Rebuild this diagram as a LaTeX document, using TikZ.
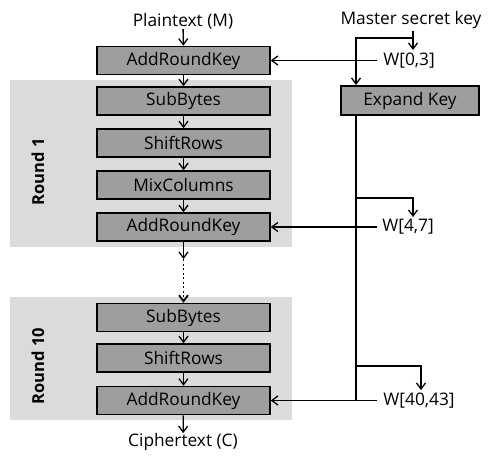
\documentclass[tikz,border=0pt]{standalone}
\usepackage{fontspec}
\setmainfont{Open Sans}
\usetikzlibrary{arrows.meta}
\begin{document}
\begin{tikzpicture}[x=1pt,y=-1pt,
  txt/.style={font=\fontsize{17.3}{19}\selectfont, inner sep=0pt},
  blk/.style={draw=black, line width=1.6pt, fill=black!38, minimum width=173pt, minimum height=28pt, inner sep=0pt, font=\fontsize{17.3}{19}\selectfont},
  region/.style={fill=black!14, draw=none},
  conn/.style={line width=1.3pt, -{Straight Barb[length=6pt,width=9pt]}},
  wire/.style={line width=1.3pt},
  rnd/.style={font=\fontsize{16.5}{18}\bfseries\selectfont, rotate=90, inner sep=0pt}]
\useasboundingbox (0,0) rectangle (492,459);
\fill[white] (0,0) rectangle (492,459);
% round regions
\fill[region] (10,80) rectangle (292,247);
\fill[region] (10,297) rectangle (292,420);
\node[rnd] (r1) at (38,172) {Round 1};
\node[rnd] (r10) at (38,366) {Round 10};
% main column
\node[txt] (pt) at (183,21) {Plaintext (M)};
\node[blk] (ark0) at (183.5,60.5) {AddRoundKey};
\node[blk] (sb1) at (183.5,101) {SubBytes};
\node[blk] (sr1) at (183.5,143) {ShiftRows};
\node[blk] (mc1) at (183.5,185) {MixColumns};
\node[blk] (ark1) at (183.5,227) {AddRoundKey};
\node[blk] (sb10) at (183.5,317.5) {SubBytes};
\node[blk] (sr10) at (183.5,358) {ShiftRows};
\node[blk] (ark10) at (183.5,400.5) {AddRoundKey};
\node[txt] (ct) at (183,442) {Ciphertext (C)};
\coordinate (dot1) at (183.5,259);
\draw[conn] (pt) -- (ark0);
\draw[conn] (ark0) -- (sb1);
\draw[conn] (sb1) -- (sr1);
\draw[conn] (sr1) -- (mc1);
\draw[conn] (mc1) -- (ark1);
\draw[conn] (ark1) -- (dot1);
\draw[conn, line width=1.8pt, dash pattern=on 2pt off 2.5pt] (dot1) -- (sb10);
\draw[conn] (sb10) -- (sr10);
\draw[conn] (sr10) -- (ark10);
\draw[conn] (ark10) -- (ct);
% key schedule
\node[txt] (mk) at (411,20) {Master secret key};
\node[blk, minimum width=138pt, minimum height=29pt] (ek) at (410,100.5) {Expand Key};
\node[txt] (w0) at (409,61) {W[0,3]};
\node[txt] (w4) at (408,227) {W[4,7]};
\node[txt] (w40) at (419,401) {W[40,43]};
\coordinate (mkb) at (413,31);
\coordinate (mkj) at (413,38);
\coordinate (w0t) at (413,50);
\coordinate (ekt) at (356,85);
\coordinate (w0l) at (377,60.5);
\coordinate (w4l) at (377,227);
\coordinate (w40l) at (377,400.5);
\coordinate (kb) at (356,400.5);
\coordinate (b4) at (356,198);
\coordinate (w4t) at (413,217);
\coordinate (b40) at (356,366);
\coordinate (w40t) at (421,390);
\draw[conn] (mkb) -- (w0t);
\draw[conn] (mkj) -| (ekt);
\draw[conn] (w0l) -- (ark0.east);
\draw[wire] (ek.south -| kb) -- (kb);
\draw[conn] (b4) -| (w4t);
\draw[conn] (w4l) -- (ark1.east);
\draw[conn] (b40) -| (w40t);
\draw[conn] (w40l) -- (ark10.east);
\end{tikzpicture}
\end{document}
